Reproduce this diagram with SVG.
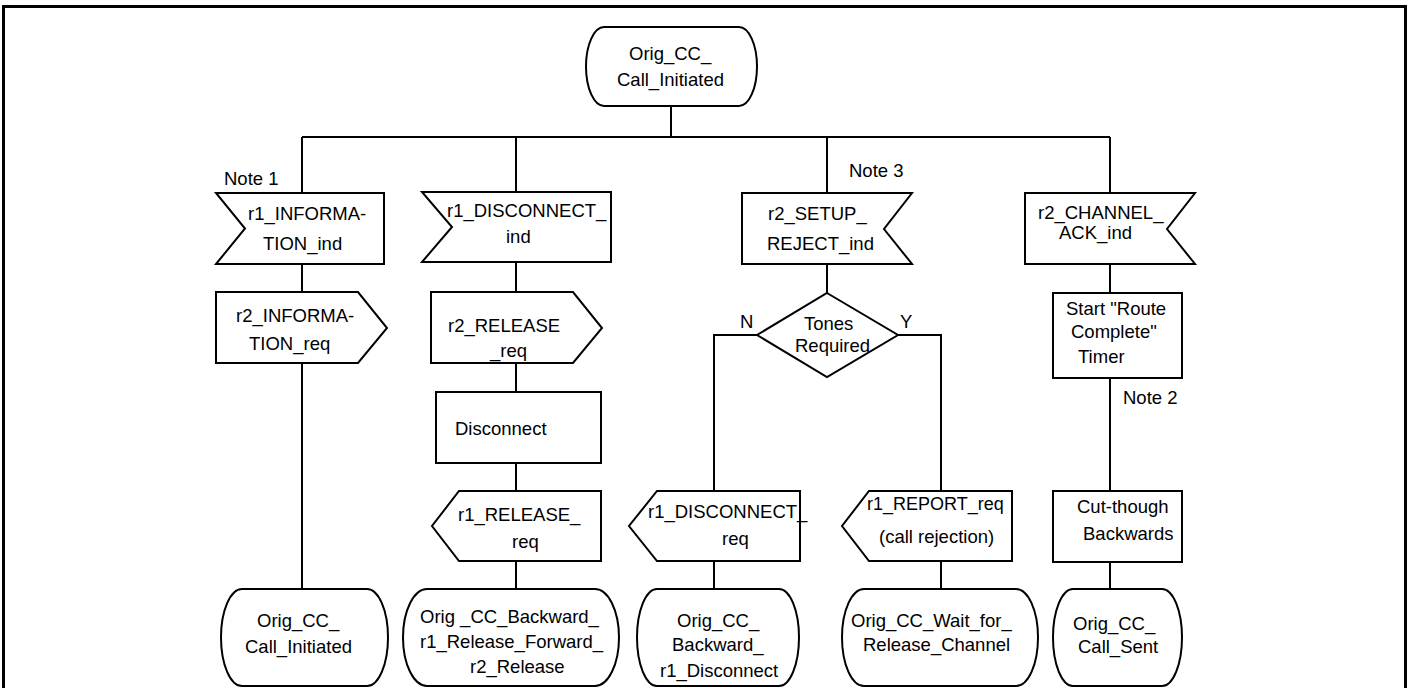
<svg xmlns="http://www.w3.org/2000/svg" width="1414" height="688" viewBox="0 0 1414 688">
<style>
.s{fill:#fff;stroke:#000;stroke-width:2}
.c{fill:none;stroke:#000;stroke-width:2}
.b{fill:none;stroke:#000;stroke-width:3}
text{font-family:"Liberation Sans",Arial,sans-serif;font-size:18.5px;fill:#000}
.sm{font-size:18px}
</style>
<rect x="0" y="0" width="1414" height="688" fill="#fff"/>
<rect class="b" x="3.5" y="6.5" width="1402" height="700"/>
<g id="connectors">
<path class="c" d="M671,106 V137 M302,137 H1110 M302,137 V193 M516,137 V192 M827,137 V193 M1110,137 V193"/>
<path class="c" d="M302,264 V292 M302,363 V589"/>
<path class="c" d="M516,262 V292 M516,363 V392 M516,463 V491 M516,561 V589"/>
<path class="c" d="M827,264 V293 M757,335 H714 V491 M898,335 H941 V491 M714,561 V589 M941,561 V589"/>
<path class="c" d="M1110,264 V293 M1110,378 V491 M1110,562 V589"/>
</g>
<g id="start">
<rect class="s" x="586" y="27" width="171" height="79" rx="18" ry="39.5"/>
<text x="629" y="60">Orig_CC_</text>
<text x="617" y="86">Call_Initiated</text>
</g>
<g id="in1">
<text x="224" y="185">Note 1</text>
<path class="s" d="M216,193 H384 V264 H216 L245,228.5 Z"/>
<text x="248" y="220">r1_INFORMA-</text>
<text x="263" y="250">TION_ind</text>
</g>
<g id="out1">
<path class="s" d="M216,292 H358 L387,328 L358,363 H216 Z"/>
<text x="236" y="322">r2_INFORMA-</text>
<text x="249" y="350">TION_req</text>
</g>
<g id="state1">
<rect class="s" x="221" y="589" width="167" height="97" rx="21" ry="48.5"/>
<text x="257" y="627">Orig_CC_</text>
<text x="245" y="653">Call_Initiated</text>
</g>
<g id="in2">
<path class="s" d="M422,192 H611 V262 H422 L452,227 Z"/>
<text x="447" y="217">r1_DISCONNECT_</text>
<text x="506" y="243">ind</text>
</g>
<g id="out2">
<path class="s" d="M431,292 H573 L602,328 L573,363 H431 Z"/>
<text x="448" y="332">r2_RELEASE</text>
<text x="490" y="357">_req</text>
</g>
<g id="task2">
<rect class="s" x="436" y="392" width="165" height="71"/>
<text x="455" y="435">Disconnect</text>
</g>
<g id="out2b">
<path class="s" d="M459,491 H601 V561 H459 L432,526 Z"/>
<text x="458" y="521">r1_RELEASE_</text>
<text x="512" y="548">req</text>
</g>
<g id="state2">
<rect class="s" x="403" y="589" width="216" height="97" rx="24" ry="48.5"/>
<text x="420" y="623">Orig _CC_Backward_</text>
<text x="420" y="648">r1_Release_Forward_</text>
<text x="470" y="673">r2_Release</text>
</g>
<g id="in3">
<text x="849" y="177">Note 3</text>
<path class="s" d="M742,193 H912 L884,229 L912,264 H742 Z"/>
<text x="768" y="220">r2_SETUP_</text>
<text x="767" y="250">REJECT_ind</text>
</g>
<g id="decision">
<path class="s" d="M827,293 L898,335 L827,377 L757,335 Z"/>
<text x="804" y="330">Tones</text>
<text x="795" y="352">Required</text>
<text x="740" y="328">N</text>
<text x="900" y="328">Y</text>
</g>
<g id="out3a">
<path class="s" d="M657,491 H800 V561 H657 L629,526 Z"/>
<text x="648" y="518">r1_DISCONNECT_</text>
<text x="722" y="545">req</text>
</g>
<g id="state3">
<rect class="s" x="637" y="589" width="162" height="97" rx="20" ry="48.5"/>
<text x="677" y="627">Orig_CC_</text>
<text x="672" y="651">Backward_</text>
<text x="660" y="677">r1_Disconnect</text>
</g>
<g id="out3b">
<path class="s" d="M869,491 H1012 V561 H869 L842,526 Z"/>
<text class="sm" x="867" y="510">r1_REPORT_req</text>
<text x="879" y="543">(call rejection)</text>
</g>
<g id="state4">
<rect class="s" x="842" y="589" width="196" height="97" rx="22" ry="48.5"/>
<text x="851" y="627">Orig_CC_Wait_for_</text>
<text x="863" y="651">Release_Channel</text>
</g>
<g id="in4">
<path class="s" d="M1025,193 H1195 L1167,229 L1195,264 H1025 Z"/>
<text x="1038" y="219">r2_CHANNEL_</text>
<text x="1059" y="239">ACK_ind</text>
</g>
<g id="task4">
<rect class="s" x="1053" y="293" width="129" height="85"/>
<text x="1066" y="315">Start &quot;Route</text>
<text x="1071" y="338">Complete&quot;</text>
<text x="1078" y="363">Timer</text>
</g>
<g id="note2">
<text x="1123" y="404">Note 2</text>
</g>
<g id="task4b">
<rect class="s" x="1053" y="491" width="129" height="71"/>
<text x="1077" y="513">Cut-though</text>
<text x="1083" y="540">Backwards</text>
</g>
<g id="state5">
<rect class="s" x="1053" y="589" width="129" height="97" rx="20" ry="48.5"/>
<text x="1073" y="630">Orig_CC_</text>
<text x="1078" y="653">Call_Sent</text>
</g>
</svg>
